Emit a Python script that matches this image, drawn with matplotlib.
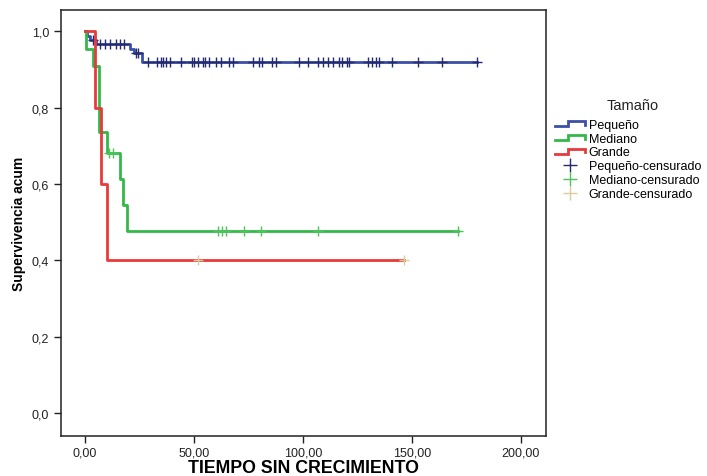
import numpy as np
import matplotlib
matplotlib.use("Agg")
import matplotlib.pyplot as plt
from matplotlib.lines import Line2D
from matplotlib.legend_handler import HandlerBase
from matplotlib.ticker import FuncFormatter

plt.rcParams['font.family'] = ['Liberation Sans', 'DejaVu Sans']

# Kaplan-Meier steps (time, cumulative survival)
peq_t = [0, 1.0, 2.5, 5.0, 20.5, 22.5, 26.0]
peq_s = [1.0, 0.989, 0.978, 0.967, 0.955, 0.943, 0.921]
peq_cens = [3.5, 7, 9, 11.5, 14, 16, 18, 23.5, 24.5, 29, 33, 35, 36, 37, 39,
            44, 49, 50, 52, 54, 55, 57, 60, 62.5, 66, 68, 77, 80, 81, 86,
            87.5, 98, 102.5, 107, 109, 111.5, 114, 116.5, 118, 120, 121,
            130, 131.5, 133.5, 135, 141, 153, 164, 180]

med_t = [0, 0.5, 3.8, 6.6, 10.0, 16.2, 17.4, 19.2]
med_s = [1.0, 0.955, 0.909, 0.736, 0.682, 0.614, 0.545, 0.477]
med_cens = [11.2, 12.7, 61.1, 62.9, 64.7, 72.8, 80.9, 106.9, 171.2]

gra_t = [0, 4.6, 7.2, 10.0]
gra_s = [1.0, 0.8, 0.6, 0.4]
gra_cens = [52.0, 146.4]

labels = ['Pequeño', 'Mediano', 'Grande']
line_colors = ['#3c4fa8', '#34b84a', '#e83a3a']
cens_colors = ['#25296e', '#4cc45a', '#dccb9c']


class StepHandler(HandlerBase):
    # step shaped legend handle like the SPSS one
    def create_artists(self, legend, orig, xd, yd, w, h, fontsize, trans):
        x0, y0 = -xd, -yd
        xs = [x0, x0 + 0.45 * w, x0 + 0.45 * w, x0 + w, x0 + w]
        ys = [y0 + 0.2 * h, y0 + 0.2 * h, y0 + 0.75 * h, y0 + 0.75 * h, y0 + 0.35 * h]
        ln = Line2D(xs, ys, color=orig.get_color(), lw=orig.get_linewidth(),
                    solid_joinstyle='miter', transform=trans)
        return [ln]


fig = plt.figure(figsize=(7.07, 4.77), dpi=100)
ax = fig.add_axes([0.0863, 0.0845, 0.686, 0.8931])

series = [(peq_t, peq_s, peq_cens), (med_t, med_s, med_cens), (gra_t, gra_s, gra_cens)]
step_handles = []
cens_handles = []
for (t, s, c), lab, lc, cc in zip(series, labels, line_colors, cens_colors):
    end = max(c)
    xs = list(t) + [end]
    ys = list(s) + [s[-1]]
    h, = ax.plot(xs, ys, drawstyle='steps-post', color=lc, lw=2.0, label=lab)
    step_handles.append(h)
    idx = np.searchsorted(t, c, side='right') - 1
    cy = np.array(s)[idx]
    m, = ax.plot(c, cy, linestyle='none', marker='+', markersize=7,
                 markeredgewidth=1.0, color=cc, label=lab + '-censurado')
    cens_handles.append(m)

ax.set_xlim(-11.0, 211.5)
ax.set_ylim(-0.059, 1.057)
ax.set_xticks([0, 50, 100, 150, 200])
ax.set_yticks([0, 0.2, 0.4, 0.6, 0.8, 1.0])
ax.xaxis.set_major_formatter(FuncFormatter(lambda v, p: f"{v:.2f}".replace('.', ',')))
ax.yaxis.set_major_formatter(FuncFormatter(lambda v, p: f"{v:.1f}".replace('.', ',')))
ax.tick_params(direction='out', length=5, width=1, labelsize=9, colors='#222222')
ax.tick_params(axis='x', pad=2.5)
for sp in ax.spines.values():
    sp.set_linewidth(1.1)
    sp.set_color('#222222')

ax.set_xlabel('TIEMPO SIN CRECIMIENTO', fontsize=12.8, fontweight='bold', labelpad=1)
ax.set_ylabel('Supervivencia acum', fontsize=10, fontweight='bold', labelpad=4)

leg = ax.legend(step_handles + cens_handles,
                [h.get_label() for h in step_handles + cens_handles],
                handler_map={h: StepHandler() for h in step_handles},
                loc='upper left', bbox_to_anchor=(0.785, 0.749),
                bbox_transform=fig.transFigure, frameon=False,
                fontsize=9, markerscale=1.5,
                handlelength=2.4, handletextpad=0.3, labelspacing=0.15,
                borderaxespad=0, borderpad=0)
fig.text(0.895, 0.777, 'Tamaño', fontsize=10.5, ha='center', va='center', color='#222222')

fig.savefig('out.png', dpi=100)
